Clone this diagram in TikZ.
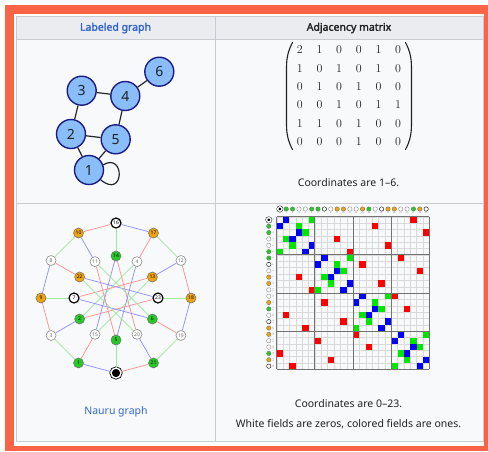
\documentclass[tikz,border=0pt]{standalone}
\usepackage{amsmath}
\usepackage{fontspec}
\newfontfamily\wikifont{Noto Sans}[AutoFakeBold=2.2]
\usepackage{xcolor}
\usetikzlibrary{calc}

\definecolor{framecol}{HTML}{F96446}
\definecolor{cellbg}{HTML}{F8F9FA}
\definecolor{headbg}{HTML}{EAECF0}
\definecolor{tableline}{HTML}{C8CCD1}
\definecolor{linkblue}{HTML}{3366CC}
\definecolor{textcol}{HTML}{202122}
\definecolor{vtxfill}{HTML}{89BEFA}
\definecolor{vtxline}{HTML}{1C1C86}
\definecolor{nauruorange}{HTML}{F0A30A}
\definecolor{naurugreen}{HTML}{22CC22}
\definecolor{edgeR}{HTML}{FF8C8C}
\definecolor{edgeB}{HTML}{8C8CFF}
\definecolor{edgeG}{HTML}{9CEA9C}
\definecolor{cellR}{HTML}{FF0000}
\definecolor{cellB}{HTML}{0000FF}
\definecolor{cellG}{HTML}{00E600}

\begin{document}
\begin{tikzpicture}[x=1pt, y=-1pt,
  headtext/.style={font=\wikifont\bfseries\fontsize{10.5}{12}\selectfont, text=textcol},
  captext/.style={font=\wikifont\fontsize{10.5}{12}\selectfont, text=textcol},
  vtx/.style={circle, draw=vtxline, fill=vtxfill, line width=1.4pt, minimum size=29pt,
    inner sep=0pt, font=\wikifont\fontsize{14}{14}\selectfont, text=textcol},
  gedge/.style={line width=1.2pt, black!85},
  paren/.style={line width=1.1pt, textcol, line cap=round},
  nbase/.style={circle, minimum size=10pt, inner sep=0pt, line width=0.6pt,
    font=\wikifont\fontsize{5}{5}\selectfont},
  nwhite/.style={nbase, fill=white, draw=black!45, text=black!60},
  norange/.style={nbase, fill=nauruorange, draw=black!55},
  ngreen/.style={nbase, fill=naurugreen, draw=black!55},
  nblack/.style={nbase, fill=white, draw=black, line width=1.2pt},
  nzero/.style={nbase, fill=black, draw=black, line width=0.8pt, double=white, double distance=1.4pt},
  icon/.style={minimum size=4.4pt, line width=0.4pt},
  tinytext/.style={font=\fontsize{2}{2}\selectfont, inner sep=0pt, text=black!60},
  nedge/.style={line width=0.7pt},
  gridthin/.style={line width=0.3pt, black!15},
  gridthick/.style={line width=0.8pt, black!55}]

\useasboundingbox (0,0) rectangle (488,451);

% ------------------------
% Frame and table
% ------------------------
\fill[framecol] (5,5) rectangle (488,451);
\fill[white] (14,14) rectangle (484,446);
\fill[cellbg] (16,16) rectangle (483,441);
\fill[headbg] (16,16) rectangle (483,39);
\draw[tableline] (16,16) rectangle (483,441);
\draw[tableline] (215,16) -- (215,441);
\draw[tableline] (16,39) -- (483,39);
\draw[tableline] (16,203) -- (483,203);

\node[headtext, text=linkblue] (headGraph) at (115.5,28) {Labeled graph};
\node[headtext] (headMatrix) at (349,28) {Adjacency matrix};

% ------------------------
% Labeled graph
% ------------------------
\node[vtx] (v1) at (89,170) {1};
\node[vtx] (v2) at (71,134) {2};
\node[vtx] (v3) at (81.7,90.7) {3};
\node[vtx] (v4) at (125.3,96) {4};
\node[vtx] (v5) at (115.7,139.3) {5};
\node[vtx] (v6) at (159.3,71.7) {6};

\foreach \a/\b in {3/4, 3/2, 4/6, 4/5, 2/5, 2/1, 5/1}{
  \draw[gedge] (v\a) -- (v\b);
}
% self loop at 1
\draw[gedge] (v1.20) .. controls +(22,-13) and +(24,20) .. (v1.-40);

% ------------------------
% Small adjacency matrix
% ------------------------
\node[font=\fontsize{12.5}{15}\selectfont, text=textcol] (adjSmall) at (349,96)
  {\renewcommand{\arraystretch}{1.22}\setlength{\arraycolsep}{6.9pt}%
   $\begin{matrix}
     2 & 1 & 0 & 0 & 1 & 0\\
     1 & 0 & 1 & 0 & 1 & 0\\
     0 & 1 & 0 & 1 & 0 & 0\\
     0 & 0 & 1 & 0 & 1 & 1\\
     1 & 1 & 0 & 1 & 0 & 0\\
     0 & 0 & 0 & 1 & 0 & 0
   \end{matrix}$};
% parentheses
\draw[paren] (292.5,42.5) .. controls (288.5,50) and (286.5,57) .. (286.5,68)
  -- (286.5,124) .. controls (286.5,135) and (288.5,142) .. (292.5,149.5);
\draw[paren] (405.5,42.5) .. controls (409.5,50) and (411.5,57) .. (411.5,68)
  -- (411.5,124) .. controls (411.5,135) and (409.5,142) .. (405.5,149.5);

\node[captext] (coordSmall) at (348.5,182.7) {Coordinates are 1–6.};

% ------------------------
% Nauru graph
% ------------------------
\def\ncx{116}
\def\ncy{298}
\def\rout{75}
\def\rin{42}

\foreach \v/\s [count=\k from 0] in {16/nblack,17/norange,12/nwhite,18/norange,19/nwhite,21/ngreen,
                                     0/nzero,1/ngreen,3/nwhite,9/norange,8/nwhite,10/norange}{
  \node[\s] (n\v) at ({\ncx+\rout*cos(90-30*\k)},{\ncy-\rout*sin(90-30*\k)}) {\ifnum\v=0 \else\v\fi};
}
\foreach \v/\s [count=\k from 0] in {14/ngreen,4/nwhite,13/norange,23/nblack,6/ngreen,20/nwhite,
                                     5/ngreen,15/nwhite,2/ngreen,7/nblack,22/norange,11/nwhite}{
  \node[\s] (n\v) at ({\ncx+\rin*cos(90-30*\k)},{\ncy-\rin*sin(90-30*\k)}) {\v};
}

\def\nauruedges{16/17/B,17/12/G,12/18/R,18/19/B,19/21/G,21/0/R,0/1/B,1/3/G,3/9/R,9/8/B,8/10/G,10/16/R,
  16/14/G,17/4/R,12/13/B,18/23/G,19/6/R,21/20/B,0/5/G,1/15/R,3/2/B,9/7/G,8/22/R,10/11/B,
  14/15/B,14/20/R,4/5/B,4/2/G,13/7/R,13/15/G,23/22/B,23/2/R,6/7/B,6/11/G,20/22/G,5/11/R}

\foreach \a/\b/\c in \nauruedges{
  \draw[nedge, edge\c] (n\a) -- (n\b);
}

\node[captext, text=linkblue] (nauruCap) at (116,412) {Nauru graph};

% ------------------------
% Large adjacency matrix
% ------------------------
\def\mx{276.7}
\def\my{216.7}
\def\cs{6.36}

\foreach \i in {0,...,24}{
  \draw[gridthin] ({\mx+\cs*\i},\my) -- ++(0,{24*\cs});
  \draw[gridthin] (\mx,{\my+\cs*\i}) -- ++({24*\cs},0);
}
\draw[gridthin, black!10, dashed] (\mx,\my) -- ++({24*\cs},{24*\cs});

\foreach \a/\b/\c in \nauruedges{
  \fill[cell\c] ({\mx+\cs*\b},{\my+\cs*\a}) rectangle +(\cs,\cs);
  \fill[cell\c] ({\mx+\cs*\a},{\my+\cs*\b}) rectangle +(\cs,\cs);
}

\foreach \i in {0,6,12,18,24}{
  \draw[gridthick] ({\mx+\cs*\i},\my) -- ++(0,{24*\cs});
  \draw[gridthick] (\mx,{\my+\cs*\i}) -- ++({24*\cs},0);
}

% row and column headers
\foreach \v/\s in {0/nzero,1/ngreen,2/ngreen,3/nwhite,4/nwhite,5/ngreen,6/ngreen,7/nblack,
                   8/nwhite,9/norange,10/norange,11/nwhite,12/nwhite,13/norange,14/ngreen,15/nwhite,
                   16/nblack,17/norange,18/norange,19/nwhite,20/nwhite,21/ngreen,22/norange,23/nblack}{
  \node[\s, icon] (c\v) at ({\mx+\cs*(\v+0.5)},209) {};
  \node[tinytext] (cl\v) at ({\mx+\cs*(\v+0.5)},213.2) {\v};
  \node[\s, icon] (r\v) at (268.8,{\my+\cs*(\v+0.5)}) {};
  \node[tinytext, rotate=90] (rl\v) at (273.3,{\my+\cs*(\v+0.5)}) {\v};
}

\node[captext] (coordLarge) at (348.5,403.3) {Coordinates are 0–23.};
\node[captext] (fieldNote) at (348.5,424) {White fields are zeros, colored fields are ones.};

\end{tikzpicture}
\end{document}
